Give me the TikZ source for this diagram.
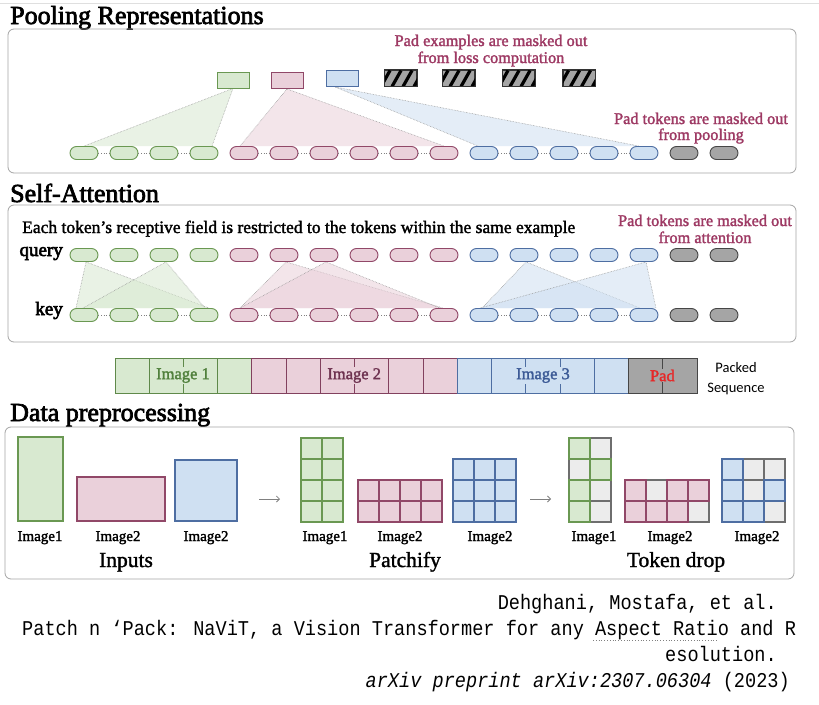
\documentclass[tikz,border=0pt]{standalone}
\usepackage{fontspec}
\setmainfont{Liberation Serif}
\newfontfamily\citefont{Liberation Mono}
\newfontfamily\seqfont{Carlito}
\newcommand\heavytext[2]{\special{pdf:literal direct #1 w 2 Tr}#2\special{pdf:literal direct 0 Tr}}
\usetikzlibrary{backgrounds,arrows.meta}
\definecolor{gfill}{RGB}{216,233,208}
\definecolor{gline}{RGB}{106,152,82}
\definecolor{pfill}{RGB}{234,208,218}
\definecolor{pline}{RGB}{145,72,104}
\definecolor{bfill}{RGB}{207,224,242}
\definecolor{bline}{RGB}{78,110,162}
\definecolor{kfill}{RGB}{165,165,165}
\definecolor{kline}{RGB}{70,70,70}
\definecolor{xfill}{RGB}{236,236,236}
\definecolor{xline}{RGB}{110,110,110}
\definecolor{maroon}{RGB}{158,58,100}
\definecolor{boxline}{RGB}{165,165,165}
\begin{document}
\begin{tikzpicture}[x=1pt,y=-1pt,
  secbox/.style={draw=boxline, line width=0.8pt, rounded corners=6pt},
  title/.style={anchor=base west, inner sep=0pt, font=\fontsize{26}{28}\selectfont},
  note/.style={anchor=base, inner sep=0pt, text=maroon, font=\fontsize{16.3}{18}\selectfont},
  tok/.style={draw, rounded corners=6.5pt, minimum width=28pt, minimum height=13pt, inner sep=0pt, line width=0.9pt},
  gtok/.style={tok, fill=gfill, draw=gline},
  ptok/.style={tok, fill=pfill, draw=pline},
  btok/.style={tok, fill=bfill, draw=bline},
  ktok/.style={tok, fill=kfill, draw=kline},
  prect/.style={draw, minimum width=32pt, minimum height=16pt, inner sep=0pt, line width=0.9pt},
  conn/.style={draw=gray, dotted, line width=0.6pt},
  fanline/.style={draw=gray!85, densely dotted, line width=0.55pt},
  gfan/.style={fill=gfill, fill opacity=0.55},
  pfan/.style={fill=pfill, fill opacity=0.55},
  bfan/.style={fill=bfill, fill opacity=0.55},
  seqcell/.style={draw, minimum width=34.24pt, minimum height=35pt, inner sep=0pt, line width=1pt},
  seqlab/.style={inner sep=1pt, font=\fontsize{16.5}{18}\selectfont},
  gcell/.style={fill=gfill, draw=gline, line width=1.2pt},
  pcell/.style={fill=pfill, draw=pline, line width=1.2pt},
  bcell/.style={fill=bfill, draw=bline, line width=1.2pt},
  xcell/.style={fill=xfill, draw=xline, line width=1.2pt},
  lab/.style={anchor=base, inner sep=0pt, font=\fontsize{15}{17}\selectfont},
  big/.style={anchor=base, inner sep=0pt, font=\fontsize{21.5}{24}\selectfont},
  arr/.style={draw=gray, line width=0.8pt, -{Straight Barb[length=3pt]}},
  cite/.style={inner sep=0pt, font=\citefont\fontsize{18.6}{20}\selectfont}
]
\useasboundingbox (0,0) rectangle (819,704);
\begin{scope}[on background layer]
  \fill[white] (0,0) rectangle (819,704);
\end{scope}
\draw[gray!25, line width=0.8pt] (0,3) -- (819,3);

% ---------- Pooling Representations ----------
\node[title] (t1) at (10,24) {\heavytext{0.7}{Pooling Representations}};
\draw[secbox] (8,29) rectangle (796,173);
\node[note] (n1) at (491,46) {\heavytext{0.3}{Pad examples are masked out}};
\node[note] (n2) at (491,63) {\heavytext{0.3}{from loss computation}};
\node[note] (n3) at (701,124) {\heavytext{0.3}{Pad tokens are masked out}};
\node[note] (n4) at (701,140) {\heavytext{0.3}{from pooling}};

\node[prect, fill=gfill, draw=gline] (rg) at (233,80) {};
\node[prect, fill=pfill, draw=pline] (rp) at (287,80.5) {};
\node[prect, fill=bfill, draw=bline] (rb) at (342,78.5) {};
\foreach \n/\x in {1/400.5,2/458.5,3/518.5,4/579} {
  \node[prect, fill=kfill, draw=black!80] (h\n) at (\x,78) {};
  \begin{scope}
    \clip (h\n.south west) rectangle (h\n.north east);
    \foreach \a in {-3,8,19,30}
      \draw[black, line width=3.2pt] ([xshift=\a pt]h\n.south west) -- ++(9,-16);
  \end{scope}
  \draw[black!80, line width=0.9pt] (h\n.south west) rectangle (h\n.north east);
}

\foreach \i in {0,...,3} \node[gtok] (p\i) at ({84+40*\i},153) {};
\foreach \i in {4,...,9} \node[ptok] (p\i) at ({84+40*\i},153) {};
\foreach \i in {10,...,14} \node[btok] (p\i) at ({84+40*\i},153) {};
\foreach \i in {15,16} \node[ktok] (p\i) at ({84+40*\i},153) {};
\foreach \i/\j in {0/1,1/2,2/3,4/5,5/6,6/7,7/8,8/9,10/11,11/12,12/13,13/14}
  \draw[conn] (p\i) -- (p\j);

\begin{scope}[on background layer]
  \fill[gfan] (rg.south) -- (p0.north) -- ([xshift=8pt]p3.north) -- cycle;
  \draw[fanline] (p0.north) -- (rg.south) -- ([xshift=8pt]p3.north);
  \fill[pfan] (rp.south) -- ([xshift=-4pt]p4.north) -- (p9.north) -- cycle;
  \draw[fanline] ([xshift=-4pt]p4.north) -- (rp.south) -- (p9.north);
  \fill[bfan] ([xshift=-7pt]rb.south) -- ([xshift=-6pt]p10.north) -- ([xshift=-5pt]p14.north) -- cycle;
  \draw[fanline] ([xshift=-6pt]p10.north) -- ([xshift=-7pt]rb.south) -- ([xshift=-5pt]p14.north);
\end{scope}

% ---------- Self-Attention ----------
\node[title] (t2) at (10,202) {\heavytext{0.7}{Self-Attention}};
\draw[secbox] (8,205) rectangle (796,342);
\node[anchor=base west, inner sep=0pt, font=\fontsize{17.5}{19}\selectfont] (e1) at (22,233)
  {\heavytext{0.3}{Each token's receptive field is restricted to the tokens within the same example}};
\node[note] (n5) at (705,226) {\heavytext{0.3}{Pad tokens are masked out}};
\node[note] (n6) at (705,243) {\heavytext{0.3}{from attention}};
\node[anchor=base east, inner sep=0pt, font=\fontsize{19}{21}\selectfont] (ql) at (63,256) {\heavytext{0.6}{query}};
\node[anchor=base east, inner sep=0pt, font=\fontsize{19}{21}\selectfont] (kl) at (63,315) {\heavytext{0.6}{key}};

\foreach \r/\y in {q/255,k/315} {
  \foreach \i in {0,...,3} \node[gtok] (\r\i) at ({84+40*\i},\y) {};
  \foreach \i in {4,...,9} \node[ptok] (\r\i) at ({84+40*\i},\y) {};
  \foreach \i in {10,...,14} \node[btok] (\r\i) at ({84+40*\i},\y) {};
  \foreach \i in {15,16} \node[ktok] (\r\i) at ({84+40*\i},\y) {};
}
\foreach \i/\j in {0/1,1/2,2/3,4/5,5/6,6/7,7/8,8/9,10/11,11/12,12/13,13/14}
  \draw[conn] (k\i) -- (k\j);

\begin{scope}[on background layer]
  \foreach \q/\l/\r/\f/\lx/\rx in {q0/k0/k3/gfan/-8/5, q2/k0/k3/gfan/-1/1,
                                   q5/k4/k9/pfan/-4/-1, q6/k4/k9/pfan/-4/-4,
                                   q11/k10/k14/bfan/-2/-4, q14/k10/k14/bfan/-4/12} {
    \fill[\f] ([xshift=2pt]\q.south) -- ([xshift=\lx pt]\l.north) -- ([xshift=\rx pt]\r.north) -- cycle;
    \draw[fanline] ([xshift=\lx pt]\l.north) -- ([xshift=2pt]\q.south) -- ([xshift=\rx pt]\r.north);
  }
\end{scope}

% ---------- Packed sequence ----------
\foreach \i in {0,...,3} \node[seqcell, fill=gfill, draw=gline!90!black] (s\i) at ({115+34.24*(\i+0.5)},375.5) {};
\foreach \i in {4,...,9} \node[seqcell, fill=pfill, draw=pline!90!black] (s\i) at ({115+34.24*(\i+0.5)},375.5) {};
\foreach \i in {10,...,14} \node[seqcell, fill=bfill, draw=bline] (s\i) at ({115+34.24*(\i+0.5)},375.5) {};
\foreach \i in {15,16} \node[seqcell, fill=kfill, draw=kline] (s\i) at ({115+34.24*(\i+0.5)},375.5) {};
\node[seqlab, fill=gfill, text={rgb,255:red,80;green,128;blue,60}] (l1) at (s2.west) {\heavytext{0.3}{Image 1}};
\node[seqlab, fill=pfill, text={rgb,255:red,110;green,50;blue,80}] (l2) at (s7.west) {\heavytext{0.3}{Image 2}};
\node[seqlab, fill=bfill, text={rgb,255:red,60;green,90;blue,150}] (l3) at (s12) {\heavytext{0.3}{Image 3}};
\node[seqlab, fill=kfill, text={rgb,255:red,230;green,40;blue,40}] (l4) at (s16.west) {\heavytext{0.3}{Pad}};
\node[anchor=base, inner sep=0pt, font=\seqfont\fontsize{14.5}{16}\selectfont] (ps1) at (736,372) {Packed};
\node[anchor=base, inner sep=0pt, font=\seqfont\fontsize{14.5}{16}\selectfont] (ps2) at (736,392) {Sequence};

% ---------- Data preprocessing ----------
\node[title] (t3) at (10,421) {\heavytext{0.7}{Data preprocessing}};
\draw[secbox] (5,427) rectangle (794,579);

\node[draw=gline, fill=gfill, line width=1.2pt, minimum width=45pt, minimum height=84pt, inner sep=0pt] (in1) at (40.5,479) {};
\node[draw=pline, fill=pfill, line width=1.2pt, minimum width=88pt, minimum height=44pt, inner sep=0pt] (in2) at (121,499) {};
\node[draw=bline, fill=bfill, line width=1.2pt, minimum width=62pt, minimum height=61pt, inner sep=0pt] (in3) at (206,490.5) {};
\node[lab] (li1) at (40,541) {\heavytext{0.25}{Image1}};
\node[lab] (li2) at (118,541) {\heavytext{0.25}{Image2}};
\node[lab] (li3) at (206,541) {\heavytext{0.25}{Image2}};
\node[big] (bi) at (126,567) {\heavytext{0.3}{Inputs}};

\coordinate (a1) at (259,499); \coordinate (a2) at (280,499);
\draw[arr] (a1) -- (a2);

\foreach \c in {0,1} \foreach \r in {0,...,3} \draw[gcell] ({301+21*\c},{438+21*\r}) rectangle ++(21,21);
\foreach \c in {0,...,3} \foreach \r in {0,1} \draw[pcell] ({358+21*\c},{480+21*\r}) rectangle ++(21,21);
\foreach \c in {0,...,2} \foreach \r in {0,...,2} \draw[bcell] ({453+21*\c},{459+21*\r}) rectangle ++(21,21);
\node[lab] (lp1) at (325,541) {\heavytext{0.25}{Image1}};
\node[lab] (lp2) at (400,541) {\heavytext{0.25}{Image2}};
\node[lab] (lp3) at (490,541) {\heavytext{0.25}{Image2}};
\node[big] (bp) at (405,567) {\heavytext{0.3}{Patchify}};

\coordinate (a3) at (530,499); \coordinate (a4) at (551,499);
\draw[arr] (a3) -- (a4);

\foreach \c/\r in {1/0,0/1,1/2,1/3} \draw[xcell] ({569+21*\c},{438+21*\r}) rectangle ++(21,21);
\foreach \c/\r in {0/0,1/1,0/2,0/3} \draw[gcell] ({569+21*\c},{438+21*\r}) rectangle ++(21,21);
\foreach \c/\r in {1/0,3/1} \draw[xcell] ({625+21*\c},{480+21*\r}) rectangle ++(21,21);
\foreach \c/\r in {0/0,2/0,3/0,0/1,1/1,2/1} \draw[pcell] ({625+21*\c},{480+21*\r}) rectangle ++(21,21);
\foreach \c/\r in {1/0,2/0,1/1,2/2} \draw[xcell] ({722+21*\c},{459+21*\r}) rectangle ++(21,21);
\foreach \c/\r in {0/0,0/1,2/1,0/2,1/2} \draw[bcell] ({722+21*\c},{459+21*\r}) rectangle ++(21,21);
\node[lab] (ld1) at (594,541) {\heavytext{0.25}{Image1}};
\node[lab] (ld2) at (670,541) {\heavytext{0.25}{Image2}};
\node[lab] (ld3) at (757,541) {\heavytext{0.25}{Image2}};
\node[big] (bd) at (676,567) {\heavytext{0.3}{Token drop}};

% ---------- Citation ----------
\node[cite, anchor=base east] (c1) at (777,609) {\scalebox{1}[1.13]{Dehghani, Mostafa, et al.}};
\node[cite, anchor=base west] (c2) at (22,635) {\scalebox{1}[1.13]{Patch n ‘Pack: NaViT, a Vision Transformer for any Aspect Ratio and R}};
\node[cite, anchor=base east] (c3) at (777,661) {\scalebox{1}[1.13]{esolution.}};
\node[cite, anchor=base east] (c4) at (790,687) {\scalebox{1}[1.13]{\itshape arXiv preprint arXiv:2307.06304\upshape{} (2023)}};
\coordinate (u1) at (593,640); \coordinate (u2) at (718,640);
\draw[gray, dotted, line width=0.8pt] (u1) -- (u2);
\end{tikzpicture}
\end{document}
